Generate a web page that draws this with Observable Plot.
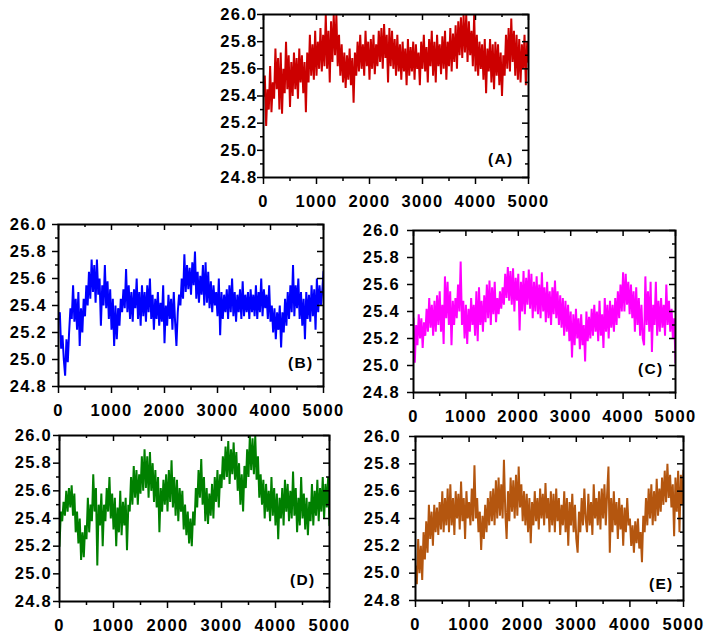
<!DOCTYPE html>
<html><head><meta charset="utf-8">
<script src="https://cdn.jsdelivr.net/npm/d3@7"></script>
<script src="https://cdn.jsdelivr.net/npm/@observablehq/plot@0.6"></script>
<style>
html,body{margin:0;padding:0;background:#fff;}
#chart{position:relative;width:708px;height:634px;overflow:hidden;background:#fff;}
#chart svg{position:absolute;}
#chart svg text{font-family:'Liberation Sans', Arial, sans-serif;font-weight:bold;}
</style></head><body><div id="chart"></div>
<script>
// sampling interval of the series (time units)
const STEP = 25;
const yMajor = [24.8, 25.0, 25.2, 25.4, 25.6, 25.8, 26.0];
const yMinor = [24.9, 25.1, 25.3, 25.5, 25.7, 25.9];
const xMajor = [0, 1000, 2000, 3000, 4000, 5000];
const xMinor = [500, 1500, 2500, 3500, 4500];
const labels = ["(A)", "(B)", "(C)", "(D)", "(E)"];

const seriesA = [
25.40,25.55,25.18,25.45,25.30,25.62,25.28,25.50,
25.38,25.75,25.45,25.68,25.30,25.72,25.27,25.60,
25.42,25.80,25.45,25.70,25.32,25.65,25.40,25.72,
25.45,25.68,25.38,25.75,25.50,25.70,25.42,25.65,
25.28,25.72,25.50,25.85,25.55,25.78,25.52,25.88,
25.55,25.80,25.60,25.90,25.58,25.85,25.62,26.00,
25.60,25.88,25.50,25.95,25.65,26.00,25.70,26.00,
25.62,25.85,25.55,25.78,25.50,25.72,25.46,25.70,
25.52,25.75,25.48,25.68,25.35,25.72,25.55,25.80,
25.58,25.85,25.60,25.78,25.55,25.88,25.62,25.80,
25.52,25.82,25.60,25.85,25.56,25.78,25.62,25.88,
25.65,25.90,25.60,25.93,25.68,25.85,25.50,25.90,
25.62,25.88,25.60,25.82,25.55,25.85,25.58,25.78,
25.52,25.80,25.58,25.75,25.48,25.82,25.55,25.76,
25.58,25.80,25.52,25.78,25.60,25.72,25.48,25.80,
25.60,25.85,25.58,25.76,25.50,25.82,25.62,25.88,
25.55,25.80,25.50,25.85,25.62,25.78,25.56,25.84,
25.60,25.88,25.52,25.80,25.62,25.90,25.58,25.86,
25.65,25.92,25.60,25.95,25.70,25.98,25.68,26.00,
25.72,26.00,25.65,25.95,25.70,25.88,25.62,26.00,
25.58,25.85,25.55,25.80,25.60,25.78,25.52,25.82,
25.42,25.75,25.58,25.82,25.50,25.78,25.45,25.80,
25.55,25.78,25.48,25.72,25.40,25.70,25.55,25.85,
25.60,25.90,25.58,25.97,25.65,25.88,25.55,25.85,
25.52,25.82,25.50,25.78,25.60,25.85,25.48,25.80,
25.65];

const seriesB = [
25.30,25.35,25.08,25.18,25.00,24.88,25.15,24.98,
25.20,25.38,25.30,25.55,25.28,25.45,25.22,25.50,
25.10,25.38,25.20,25.45,25.32,25.55,25.40,25.65,
25.45,25.74,25.50,25.70,25.42,25.74,25.48,25.60,
25.25,25.55,25.40,25.70,25.38,25.58,25.30,25.52,
25.22,25.45,25.10,25.40,25.15,25.38,25.25,25.45,
25.35,25.52,25.38,25.67,25.35,25.55,25.30,25.50,
25.28,25.52,25.38,25.60,25.30,25.50,25.25,25.55,
25.32,25.50,25.28,25.55,25.35,25.60,25.30,25.48,
25.22,25.45,25.30,25.50,25.25,25.42,25.28,25.55,
25.12,25.40,25.25,25.48,25.30,25.45,25.22,25.50,
25.28,25.10,25.35,25.48,25.40,25.60,25.45,25.78,
25.50,25.70,25.52,25.68,25.48,25.72,25.55,25.80,
25.45,25.65,25.42,25.62,25.48,25.70,25.40,25.72,
25.42,25.65,25.38,25.58,25.35,25.55,25.40,25.50,
25.32,25.60,25.18,25.50,25.30,25.48,25.35,25.52,
25.30,25.55,25.35,25.60,25.32,25.50,25.28,25.48,
25.35,25.52,25.30,25.58,25.32,25.48,25.35,25.50,
25.30,25.52,25.35,25.48,25.32,25.55,25.30,25.50,
25.35,25.60,25.32,25.52,25.38,25.48,25.30,25.55,
25.28,25.40,25.20,25.38,25.15,25.35,25.22,25.40,
25.09,25.35,25.20,25.45,25.25,25.50,25.30,25.55,
25.35,25.70,25.32,25.55,25.38,25.60,25.30,25.50,
25.25,25.45,25.15,25.50,25.30,25.48,25.28,25.55,
25.32,25.52,25.22,25.60,25.35,25.55,25.40,25.50,
25.65];

const seriesC = [
25.35,25.02,25.30,25.15,25.38,25.20,25.35,25.13,
25.32,25.22,25.42,25.25,25.50,25.28,25.45,25.22,
25.48,25.25,25.52,25.30,25.55,25.25,25.45,25.16,
25.66,25.35,25.62,25.30,25.55,25.15,25.48,25.30,
25.50,25.35,25.60,25.40,25.77,25.30,25.48,25.20,
25.45,25.16,25.42,25.25,25.50,25.30,25.45,25.22,
25.55,25.18,25.58,25.30,25.48,25.25,25.52,25.32,
25.60,25.35,25.63,25.30,25.58,25.38,25.62,25.32,
25.50,25.38,25.55,25.42,25.58,25.45,25.68,25.50,
25.73,25.48,25.70,25.45,25.72,25.40,25.65,25.48,
25.68,25.26,25.62,25.40,25.70,25.38,25.65,25.45,
25.71,25.42,25.68,25.35,25.62,25.40,25.66,25.38,
25.60,25.35,25.69,25.40,25.58,25.32,25.62,25.35,
25.55,25.30,25.58,25.38,25.63,25.35,25.55,25.30,
25.52,25.28,25.50,25.22,25.48,25.25,25.45,25.18,
25.40,25.06,25.38,25.15,25.42,25.20,25.35,25.12,
25.38,25.15,25.30,25.03,25.40,25.18,25.36,25.20,
25.42,25.22,25.45,25.25,25.40,25.18,25.48,25.22,
25.38,25.13,25.50,25.25,25.45,25.20,25.48,25.28,
25.45,25.25,25.50,25.30,25.55,25.35,25.60,25.40,
25.69,25.40,25.68,25.45,25.62,25.38,25.60,25.35,
25.55,25.25,25.58,25.30,25.50,25.22,25.45,25.20,
25.15,25.66,25.30,25.55,25.25,25.62,25.10,25.45,
25.30,25.62,25.22,25.48,25.25,25.50,25.28,25.45,
25.22,25.60,25.30,25.48,25.25,25.42,25.20,25.35,
25.02];

const seriesD = [
25.20,25.45,25.38,25.52,25.42,25.60,25.45,25.62,
25.48,25.64,25.42,25.58,25.30,25.45,25.22,25.40,
25.10,25.30,25.12,25.35,25.25,25.55,25.30,25.50,
25.38,25.72,25.45,25.62,25.06,25.50,25.35,25.58,
25.20,25.50,25.38,25.62,25.45,25.70,25.40,25.58,
25.32,25.55,25.20,25.48,25.30,25.60,25.28,25.52,
25.35,25.55,25.17,25.50,25.45,25.70,25.50,25.78,
25.55,25.75,25.50,25.72,25.58,25.85,25.60,25.90,
25.62,25.85,25.55,25.88,25.60,25.80,25.52,25.75,
25.48,25.70,25.30,25.62,25.45,25.68,25.50,25.72,
25.45,25.75,25.52,25.82,25.48,25.70,25.42,25.68,
25.38,25.62,25.45,25.60,25.32,25.50,25.28,25.45,
25.22,25.40,25.20,25.45,25.35,25.62,25.48,25.75,
25.55,25.83,25.50,25.70,25.38,25.62,25.36,25.58,
25.42,25.65,25.40,25.70,25.52,25.75,25.48,25.72,
25.62,25.85,25.68,25.92,25.70,25.96,25.65,25.90,
25.72,25.95,25.68,25.88,25.60,25.80,25.50,25.72,
25.45,25.78,25.62,25.90,25.70,26.00,25.75,25.98,
25.72,26.00,25.68,25.85,25.55,25.72,25.50,25.68,
25.40,25.65,25.45,25.60,25.38,25.70,25.42,25.62,
25.35,25.58,25.25,25.55,25.40,25.62,25.35,25.68,
25.45,25.65,25.38,25.60,25.40,25.74,25.42,25.62,
25.30,25.55,25.35,25.70,25.40,25.58,25.32,25.55,
25.28,25.52,25.38,25.65,25.35,25.60,25.42,25.68,
25.38,25.62,25.45,25.70,25.40,25.65,25.48,25.70,
25.35];

const seriesE = [
25.05,24.92,25.25,25.00,25.20,24.95,25.30,25.10,
25.38,25.15,25.50,25.25,25.45,25.20,25.50,25.30,
25.48,25.28,25.52,25.32,25.60,25.30,25.55,25.35,
25.62,25.30,25.65,25.35,25.55,25.28,25.60,25.40,
25.58,25.32,25.67,25.38,25.55,25.25,25.60,25.40,
25.52,25.35,25.62,25.38,25.79,25.40,25.55,25.30,
25.45,25.17,25.42,25.25,25.50,25.30,25.55,25.35,
25.60,25.38,25.62,25.35,25.68,25.40,25.70,25.42,
25.65,25.40,25.83,25.45,25.25,25.60,25.38,25.70,
25.45,25.68,25.40,25.72,25.42,25.78,25.48,25.65,
25.38,25.60,25.35,25.58,25.30,25.55,25.22,25.52,
25.35,25.60,25.38,25.55,25.32,25.62,25.40,25.58,
25.35,25.66,25.40,25.55,25.30,25.60,25.35,25.58,
25.30,25.62,25.38,25.55,25.28,25.50,25.35,25.60,
25.30,25.55,25.20,25.52,25.35,25.58,25.30,25.50,
25.25,25.15,25.45,25.30,25.55,25.35,25.62,25.40,
25.30,25.58,25.35,25.52,25.28,25.65,25.40,25.55,
25.35,25.60,25.32,25.62,25.40,25.65,25.35,25.58,
25.78,25.15,25.55,25.30,25.60,25.35,25.52,25.25,
25.55,25.32,25.50,25.20,25.48,25.30,25.55,25.35,
25.40,25.20,25.35,25.15,25.38,25.22,25.40,25.18,
25.30,25.08,25.42,25.30,25.55,25.35,25.62,25.40,
25.65,25.35,25.60,25.38,25.69,25.42,25.62,25.45,
25.70,25.50,25.75,25.52,25.80,25.55,25.72,25.48,
25.65,25.27,25.70,25.45,25.75,25.30,25.72,25.50,
25.75];

const colors = ["#cc0000", "#0000ff", "#ff00ff", "#008000", "#b4560f"];
const allSeries = [seriesA, seriesB, seriesC, seriesD, seriesE];

// layout of each panel's plotting frame on the page
const layout = [
  {l: 263, r: 528, t: 14, b: 177, gap: 7, lx: -15, ly: -14},
  {l: 58, r: 323, t: 224, b: 386, gap: 13, lx: -10, ly: -19},
  {l: 413, r: 675, t: 230, b: 392, gap: 15, lx: -12, ly: -19},
  {l: 59, r: 329, t: 435, b: 601, gap: 9, lx: -14, ly: -17},
  {l: 415, r: 683, t: 436, b: 600, gap: 16, lx: -10, ly: -12}
];

const chart = document.getElementById("chart");
const mL = 60, mR = 28, mT = 6, mB = 40;
const fmt = d3.format(".1f");
const font = {fontSize: 16.5, fontWeight: "bold", fontFamily: "'Liberation Sans', Arial, sans-serif"};

layout.forEach((L, k) => {
  const pw = L.r - L.l, ph = L.b - L.t;
  const vals = allSeries[k];
  const data = vals.map((v, i) => ({t: i * STEP, v}));
  const p = Plot.plot({
    width: pw + mL + mR,
    height: ph + mT + mB,
    marginLeft: mL, marginRight: mR, marginTop: mT, marginBottom: mB,
    style: {background: "transparent", overflow: "visible", letterSpacing: "1.3px", color: "black"},
    x: {domain: [0, 5000]},
    y: {domain: [24.8, 26.0]},
    marks: [
      Plot.lineY(data, {x: "t", y: "v", stroke: colors[k], strokeWidth: 2, strokeLinejoin: "miter", clip: true}),
      Plot.axisY(yMajor, {...font, label: null, tickSize: 6, tickPadding: Math.max(0, L.gap - 7.5), tickFormat: fmt, strokeWidth: 1.5}),
      Plot.axisY(yMinor, {label: null, tickSize: 3, tickFormat: () => "", strokeWidth: 1.5}),
      Plot.axisX(xMajor, {...font, label: null, tickSize: 7, tickPadding: 11, tickFormat: d => String(d), strokeWidth: 1.5}),
      Plot.axisX(xMinor, {label: null, tickSize: 4, tickFormat: () => "", strokeWidth: 1.5}),
      Plot.tickY(yMajor, {y: d => d, insetLeft: pw - 6, stroke: "black", strokeWidth: 1.5}),
      Plot.tickY(yMinor, {y: d => d, insetLeft: pw - 3, stroke: "black", strokeWidth: 1.5}),
      Plot.tickX(xMajor, {x: d => d, insetBottom: ph - 6, stroke: "black", strokeWidth: 1.5}),
      Plot.tickX(xMinor, {x: d => d, insetBottom: ph - 3, stroke: "black", strokeWidth: 1.5}),
      Plot.frame({stroke: "black", strokeWidth: 2}),
      Plot.text([labels[k]], {frameAnchor: "bottom-right", textAnchor: "end", dx: L.lx, dy: L.ly, fontSize: 15.5, fontWeight: "bold", fill: "black"})
    ]
  });
  p.style.left = (L.l - mL) + "px";
  p.style.top = (L.t - mT) + "px";
  chart.appendChild(p);
});
</script>
</body></html>
